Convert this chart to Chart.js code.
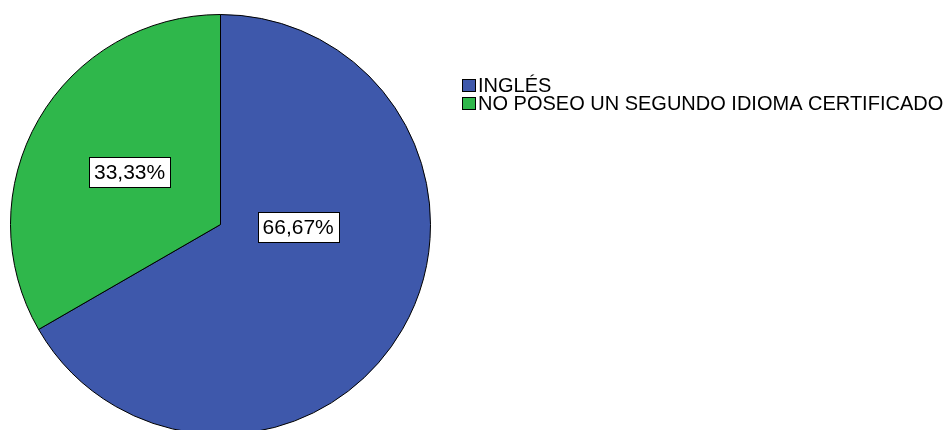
<!DOCTYPE html>
<html>
<head>
<meta charset="utf-8">
<script src="https://cdn.jsdelivr.net/npm/chart.js@4"></script>
<style>
  html, body { margin: 0; padding: 0; background: #fff; }
  #wrap { position: relative; width: 952px; height: 430px; overflow: hidden; }
  #pie { position: absolute; left: 0; top: 0; }
</style>
</head>
<body>
<div id="wrap">
  <canvas id="pie" width="952" height="440"></canvas>
</div>
<script>
// Chart data
const categories = ['INGLÉS', 'NO POSEO UN SEGUNDO IDIOMA CERTIFICADO'];
const percentages = [66.67, 33.33];
const sliceColors = ['#3e58ab', '#2fb74b'];

// where each percentage box sits (angle in radians from 3 o'clock, null = middle of slice)
const labelSpots = [{ angle: 0.03, frac: 0.37 }, { angle: null, frac: 0.5 }];

const fontName = '"Liberation Sans", Arial, sans-serif';

// Percentage boxes inside the slices
const sliceLabels = {
  id: 'sliceLabels',
  afterDatasetsDraw(chart) {
    const ctx = chart.ctx;
    const data = chart.data.datasets[0].data;
    const total = data.reduce((a, b) => a + b, 0);
    ctx.save();
    ctx.font = '21px ' + fontName;
    ctx.textAlign = 'center';
    ctx.textBaseline = 'middle';
    chart.getDatasetMeta(0).data.forEach((arc, i) => {
      const p = arc.getProps(['x', 'y', 'startAngle', 'endAngle', 'outerRadius'], true);
      const spot = labelSpots[i];
      const ang = spot.angle === null ? (p.startAngle + p.endAngle) / 2 : spot.angle;
      const cx = p.x + Math.cos(ang) * p.outerRadius * spot.frac;
      const cy = p.y + Math.sin(ang) * p.outerRadius * spot.frac;
      const text = (data[i] / total * 100).toFixed(2).replace('.', ',') + '%';
      const w = ctx.measureText(text).width + 10;
      const h = 30;
      ctx.fillStyle = '#fff';
      ctx.fillRect(Math.round(cx - w / 2), Math.round(cy - h / 2), Math.round(w), h);
      ctx.strokeStyle = '#000';
      ctx.lineWidth = 1;
      ctx.strokeRect(Math.round(cx - w / 2) + 0.5, Math.round(cy - h / 2) + 0.5, Math.round(w), h);
      ctx.fillStyle = '#000';
      ctx.fillText(text, cx, cy + 1);
    });
    ctx.restore();
  }
};

// Legend at the right, square swatch + label
const sideLegend = {
  id: 'sideLegend',
  afterDraw(chart) {
    const ctx = chart.ctx;
    const colors = chart.data.datasets[0].backgroundColor;
    ctx.save();
    ctx.font = '20px ' + fontName;
    ctx.textBaseline = 'middle';
    chart.data.labels.forEach((label, i) => {
      const y = 79 + i * 18;
      ctx.fillStyle = colors[i];
      ctx.fillRect(462, y, 14, 13);
      ctx.strokeStyle = '#000';
      ctx.lineWidth = 1;
      ctx.strokeRect(462.5, y + 0.5, 13, 12);
      ctx.fillStyle = '#000';
      ctx.fillText(label, 478, y + 7);
    });
    ctx.restore();
  }
};

new Chart(document.getElementById('pie').getContext('2d'), {
  type: 'pie',
  data: {
    labels: categories,
    datasets: [{
      data: percentages,
      backgroundColor: sliceColors,
      borderColor: '#000',
      borderWidth: 1
    }]
  },
  options: {
    responsive: false,
    animation: false,
    layout: { padding: { left: 10, top: 14, right: 521, bottom: 5 } },
    plugins: {
      legend: { display: false },
      tooltip: { enabled: false }
    }
  },
  plugins: [sliceLabels, sideLegend]
});
</script>
</body>
</html>
